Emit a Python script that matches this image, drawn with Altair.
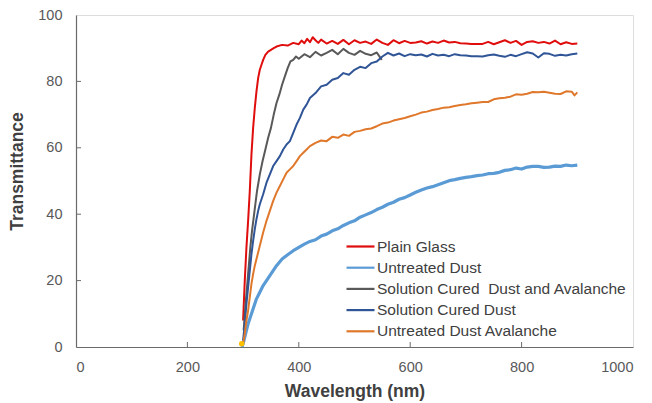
import altair as alt
import pandas as pd

# Series names as they appear in the legend
names = [
    "Plain Glass",
    "Untreated Dust",
    "Solution Cured \u00a0Dust and Avalanche",
    "Solution Cured Dust",
    "Untreated Dust Avalanche",
]
colors = ["#E00D0D", "#5B9BD5", "#595959", "#2F5597", "#E0782C"]
thick_series = "Untreated Dust"

# Plain Glass
glass_wl = [300, 303, 306, 309, 312, 315, 318, 321, 324, 327, 330, 333, 336, 340, 345,
            350, 355, 360, 370, 380, 390, 400, 405, 410, 415, 420, 425, 430, 435, 440,
            450, 460, 470, 480, 490, 500, 510, 520, 530, 540, 550, 560, 570, 580, 590,
            600, 610, 620, 630, 640, 650, 660, 670, 680, 690, 700, 710, 720, 730, 740,
            750, 760, 770, 780, 790, 800, 810, 820, 830, 840, 850, 860, 870, 880, 890, 900]
glass_t = [8, 20, 30, 38, 47, 58, 66, 72, 77, 81, 83.5, 85, 86.5, 88, 89,
           89.5, 90, 90.5, 91, 90.8, 91.6, 91.2, 92.3, 91.5, 92.8, 91.8, 93.3, 92.4, 91.6, 92.6,
           91.4, 92.2, 91.3, 92.5, 91.2, 92.4, 91.6, 92.0, 91.3, 92.6, 91.6, 91.0, 92.4, 91.5, 92.2,
           91.6, 91.7, 92.1, 91.4, 92.0, 91.6, 92.3, 91.7, 91.9, 91.5, 91.4, 91.3, 91.3, 91.3, 91.9,
           91.2, 91.8, 92.4, 91.6, 92.2, 91.0, 91.9, 92.1, 91.6, 91.9, 91.4, 92.3, 91.2, 91.8, 91.3, 91.4]

# Untreated Dust
udust_wl = [298, 300, 303, 306, 309, 312, 315, 318, 321, 324, 330, 336, 342, 348, 354,
            360, 370, 380, 390, 400, 410, 420, 430, 440, 450, 460, 470, 480, 490, 500,
            510, 520, 530, 540, 550, 560, 570, 580, 590, 600, 610, 620, 630, 640, 650,
            660, 670, 680, 690, 700, 710, 720, 730, 740, 750, 760, 770, 780, 790, 800,
            810, 820, 830, 840, 850, 860, 870, 880, 890, 900]
udust_t = [0, 1, 3, 5, 7, 8.5, 10, 11.5, 13, 14.5, 16.5, 18.5, 20, 21.5, 23,
           24.5, 26.5, 27.8, 29, 30.0, 31.0, 31.8, 32.3, 33.4, 34.0, 35.0, 35.6, 36.6, 37.4, 38.0,
           39.1, 39.8, 40.5, 41.4, 42.1, 43.0, 43.6, 44.5, 45.0, 45.8, 46.6, 47.3, 47.9, 48.3, 48.9,
           49.5, 50.1, 50.4, 50.8, 51.1, 51.3, 51.6, 51.8, 52.2, 52.3, 52.6, 53.2, 53.4, 53.9, 53.6,
           54.2, 54.4, 54.4, 54.1, 54.2, 54.5, 54.4, 54.8, 54.6, 54.8]

# Solution Cured Dust and Avalanche
scda_wl = [301, 304, 307, 310, 313, 316, 319, 322, 325, 330, 335, 340, 345, 350, 355,
           360, 365, 370, 375, 380, 385, 390, 395, 400, 410, 420, 430, 440, 450, 460,
           470, 480, 490, 500, 510, 520, 530, 540, 549]
scda_t = [5, 12, 18, 24, 30, 35, 39, 43, 47, 52, 56, 59.5, 63, 66, 70,
          73.5, 76, 79, 81.5, 84, 86, 86.5, 87.5, 86.8, 88.2, 87.3, 88.9, 87.8, 88.6, 89.5,
          88.2, 89.8, 88.6, 88.0, 89.2, 88.3, 87.9, 88.7, 86.5]

# Solution Cured Dust
scd_wl = [300, 303, 306, 309, 312, 315, 318, 321, 324, 327, 330, 336, 342, 348, 354,
          360, 366, 372, 378, 384, 390, 396, 402, 408, 414, 420, 430, 440, 450, 460,
          470, 480, 490, 500, 510, 520, 530, 540, 550, 560, 570, 580, 590, 600, 610,
          620, 630, 640, 650, 660, 670, 680, 690, 700, 710, 720, 730, 740, 750, 760,
          770, 780, 790, 800, 810, 820, 830, 840, 850, 860, 870, 880, 890, 900]
scd_t = [2, 7, 13, 18, 23, 28, 32, 35.5, 38.5, 41, 43, 46, 49.5, 52, 54.5,
         56, 57.5, 59.5, 61, 62, 64.5, 67, 69, 71.5, 73, 75, 76.5, 78.5, 79, 80.5,
         81, 82.5, 82, 83.5, 84.4, 84, 85.5, 86, 87.5, 88.6, 87.8, 88.4, 87.6, 88.2, 87.9,
         88.1, 87.5, 88.3, 87.8, 88.0, 87.6, 88.2, 87.9, 87.8, 87.6, 87.6, 87.5, 87.9, 88.1, 87.7,
         87.4, 88.0, 87.6, 88.2, 88.8, 88.4, 87.2, 88.5, 88.3, 87.7, 88.0, 87.8, 88.2, 88.4]

# Untreated Dust Avalanche
uda_wl = [300, 303, 306, 309, 312, 315, 318, 321, 324, 330, 336, 342, 348, 354, 360,
          366, 372, 378, 384, 390, 396, 402, 408, 414, 420, 430, 440, 450, 460, 470,
          480, 490, 500, 510, 520, 530, 540, 550, 560, 570, 580, 590, 600, 610, 620,
          630, 640, 650, 660, 670, 680, 690, 700, 710, 720, 730, 740, 750, 760, 770,
          780, 790, 800, 810, 820, 830, 840, 850, 860, 870, 880, 890, 895, 900]
uda_t = [1, 4, 8, 11, 15, 19, 22, 24.5, 26.5, 30.5, 34.5, 38, 41, 44, 46.5,
         48.5, 50.5, 52.5, 53.5, 54.5, 56, 57.5, 58.5, 59.5, 60.5, 61.5, 62.2, 62.0, 63.3, 63.0,
         64.0, 63.6, 64.8, 65.1, 65.6, 65.8, 66.5, 67.3, 67.6, 68.2, 68.6, 69.0, 69.5, 70.0, 70.6,
         70.9, 71.4, 71.7, 72.1, 72.2, 72.6, 72.9, 73.1, 73.4, 73.6, 73.8, 73.8, 74.6, 74.9, 75.1,
         75.4, 76.1, 76.0, 76.3, 76.8, 76.7, 76.9, 76.6, 76.3, 76.2, 77.0, 76.9, 75.8, 76.7]

# Lone marker at the start of the scans
marker_wl = [297.5]
marker_t = [1.0]

x_ticks = [0, 200, 400, 600, 800, 1000]
y_ticks = [0, 20, 40, 60, 80, 100]

series = [
    (names[0], glass_wl, glass_t),
    (names[1], udust_wl, udust_t),
    (names[2], scda_wl, scda_t),
    (names[3], scd_wl, scd_t),
    (names[4], uda_wl, uda_t),
]
rows = []
for name, wl, t in series:
    for w, v in zip(wl, t):
        rows.append({"series": name, "wavelength": w, "transmittance": v})
df = pd.DataFrame(rows)

W, H = 557, 332
axis_color = "#6b6b6b"
font = "Liberation Sans"

x_scale = alt.Scale(domain=[0, 1000], nice=False, zero=False)
y_scale = alt.Scale(domain=[0, 100], nice=False)

x_enc = alt.X("wavelength:Q", scale=x_scale,
              axis=alt.Axis(values=x_ticks, format="d", title="Wavelength (nm)", grid=False,
                            tickSize=0, labelPadding=13, labelFontSize=14.5,
                            labelColor="#595959", labelFont=font,
                            domainColor=axis_color, domainWidth=1.2,
                            titleFont=font, titleFontSize=17.5, titleFontWeight="bold",
                            titleColor="#404040", titleY=44, titleBaseline="middle"))
y_enc = alt.Y("transmittance:Q", scale=y_scale,
              axis=alt.Axis(values=y_ticks, title="Transmittance", grid=False,
                            tickSize=0, labelPadding=14, labelFontSize=14.5,
                            labelColor="#595959", labelFont=font,
                            domainColor=axis_color, domainWidth=1.2,
                            titleFont=font, titleFontSize=17.5, titleFontWeight="bold",
                            titleColor="#404040", titleX=-50, titleY=156))
# Legend keys: a long horizontal stroke drawn as a custom path on a compact row
color_enc = alt.Color("series:N", scale=alt.Scale(domain=names, range=colors),
                      legend=alt.Legend(title=None, orient="none", legendX=275, legendY=222,
                                        symbolType="M-1.75,0H1.75", symbolSize=256,
                                        symbolStrokeWidth=2.2, symbolFillColor="transparent",
                                        labelLimit=400,
                                        labelFont=font, labelFontSize=15.5,
                                        labelColor="#404040", rowPadding=3.2,
                                        labelOffset=7))

base = alt.Chart(df).encode(x=x_enc, y=y_enc, color=color_enc,
                            detail="series:N", order="wavelength:Q")

thin = base.transform_filter(alt.datum.series != thick_series).mark_line(strokeWidth=2, strokeJoin="round")
thick = base.transform_filter(alt.datum.series == thick_series).mark_line(strokeWidth=3.2, strokeJoin="round")

marker = alt.Chart(pd.DataFrame({"wavelength": marker_wl, "transmittance": marker_t})).mark_point(
    filled=True, color="#FFC000", size=30, opacity=1
).encode(x=alt.X("wavelength:Q", scale=x_scale), y=alt.Y("transmittance:Q", scale=y_scale))

# Inward-pointing tick marks on both axes
xt = alt.Chart(pd.DataFrame({"v": x_ticks[1:-1]})).mark_rule(color=axis_color, strokeWidth=1).encode(
    x=alt.X("v:Q", scale=x_scale), y=alt.value(H), y2=alt.value(H - 5))
yt = alt.Chart(pd.DataFrame({"v": y_ticks[1:-1]})).mark_rule(color=axis_color, strokeWidth=1).encode(
    y=alt.Y("v:Q", scale=y_scale), x=alt.value(0), x2=alt.value(5))

chart = alt.layer(xt, yt, thick, thin, marker).properties(
    width=W, height=H,
    autosize=alt.AutoSizeParams(type="none"),
    padding={"left": 76, "top": 15, "right": 19, "bottom": 56},
).configure_view(stroke=axis_color, strokeWidth=1.2).configure(background="white")

chart.save("out.html", embed_options={"renderer": "svg", "actions": False})
